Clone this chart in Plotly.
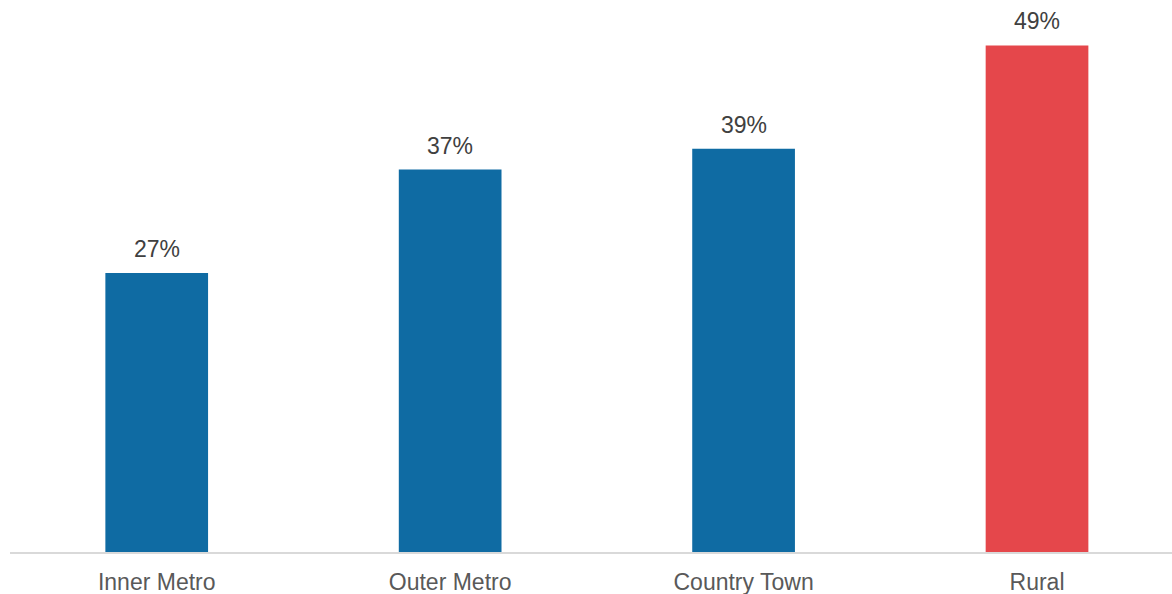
import plotly.graph_objects as go

categories = ["Inner Metro", "Outer Metro", "Country Town", "Rural"]
values = [27, 37, 39, 49]
labels = ["27%", "37%", "39%", "49%"]
colors = ["#0f6ba3", "#0f6ba3", "#0f6ba3", "#e5474b"]

fig = go.Figure(
    go.Bar(
        x=categories,
        y=values,
        marker=dict(color=colors, line=dict(width=0)),
        width=0.35,
        hoverinfo="skip",
    )
)

for cat, val, lab in zip(categories, values, labels):
    fig.add_annotation(
        x=cat, y=val, text=lab, showarrow=False,
        yanchor="bottom", yshift=9,
        font=dict(family="Liberation Sans, Arial, sans-serif", size=23, color="#404040"),
    )

fig.update_layout(
    width=1172, height=594,
    margin=dict(l=10, r=0, t=0, b=42),
    plot_bgcolor="white", paper_bgcolor="white",
    showlegend=False,
    font=dict(family="Liberation Sans, Arial, sans-serif", size=23, color="#595959"),
    xaxis=dict(
        range=[-0.5, 3.46],
        showline=True, linecolor="#d9d9d9", linewidth=2,
        showgrid=False, ticks="", zeroline=False,
        ticklabelstandoff=8,
        tickfont=dict(size=23, color="#595959"),
    ),
    yaxis=dict(
        range=[0, 53.4], visible=False, showgrid=False, zeroline=False,
    ),
)

fig.write_html("out.html")
